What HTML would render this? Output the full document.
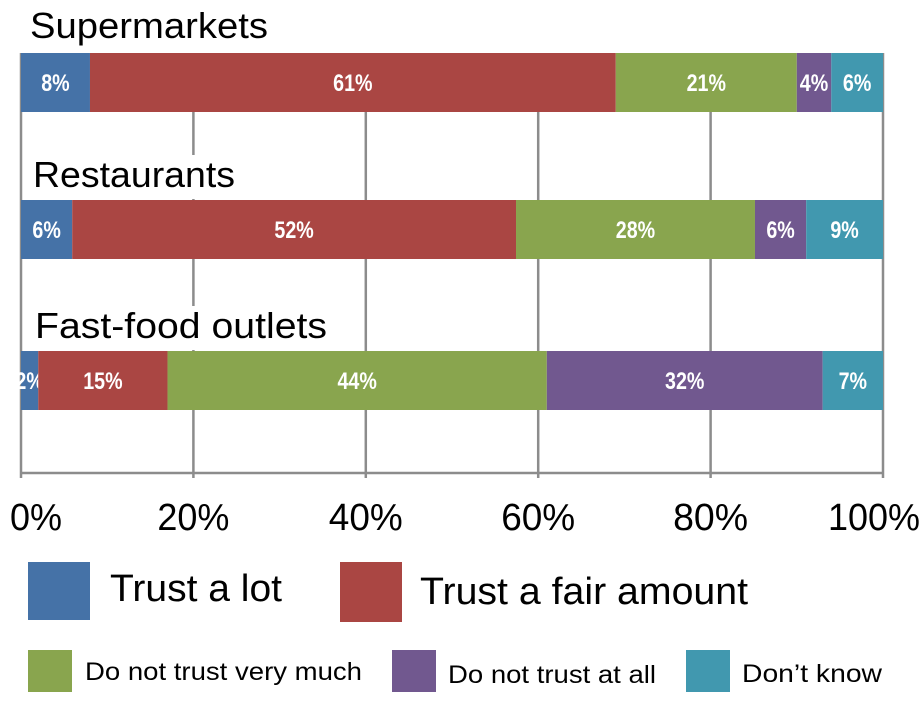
<!DOCTYPE html>
<html><head><meta charset="utf-8"><style>
html,body{margin:0;padding:0;background:#fff;}
svg{display:block;font-family:"Liberation Sans",sans-serif;}
</style></head><body>
<svg id="chart" width="923" height="713" viewBox="0 0 923 713" xmlns="http://www.w3.org/2000/svg">
<g id="grid"></g>
<g id="bars"></g>
<g id="cats"></g>
<g id="ticks"></g>
<g id="legend"></g>
</svg>
<script>
const categories = ["Supermarkets", "Restaurants", "Fast-food outlets"];
const seriesNames = ["Trust a lot", "Trust a fair amount", "Do not trust very much", "Do not trust at all", "Don\u2019t know"];
const trustLot = [8, 6, 2];
const trustFair = [61, 52, 15];
const notVeryMuch = [21, 28, 44];
const notAtAll = [4, 6, 32];
const dontKnow = [6, 9, 7];
const tickValues = [0, 20, 40, 60, 80, 100];
const tickLabels = ["0%", "20%", "40%", "60%", "80%", "100%"];

const colors = ["#4572a7", "#aa4643", "#89a54e", "#71588f", "#4198af"];
const series = [trustLot, trustFair, notVeryMuch, notAtAll, dontKnow];
const NS = "http://www.w3.org/2000/svg";
const x0 = 21, x1 = 883;
const xScale = v => x0 + (x1 - x0) * v / 100;
const barTop = [53, 200, 351], barH = 59;
const catBase = [38, 187, 338], catWidths = [238, 202, 292], catX = [30, 33, 35];

function mk(tag, attrs, parent) {
  const e = document.createElementNS(NS, tag);
  for (const k in attrs) e.setAttribute(k, attrs[k]);
  parent.appendChild(e);
  return e;
}
const grid = document.getElementById('grid');
tickValues.forEach((t, i) => {
  const l = mk('line', {x1: xScale(t), x2: xScale(t), y1: 53, y2: 478, stroke: '#8c8c8c', 'stroke-width': 2.5}, grid);
  
  
});
const ax = mk('line', {x1: x0, x2: x1, y1: 473, y2: 473, stroke: '#8c8c8c', 'stroke-width': 2.5}, grid);



const bars = document.getElementById('bars');
categories.forEach((c, ci) => {
  let total = 0;
  series.forEach(s => total += s[ci]);
  let acc = 0;
  series.forEach((s, si) => {
    const v = s[ci];
    const xa = xScale(acc / total * 100), xb = xScale((acc + v) / total * 100);
    acc += v;
    const r = mk('rect', {x: xa, y: barTop[ci], width: xb - xa, height: barH, fill: colors[si]}, bars);
    
    
    const t = mk('text', {x: (xa + xb) / 2, y: barTop[ci] + 38, 'text-anchor': 'middle', fill: '#fff', 'font-size': 24, 'font-weight': 'bold'}, bars);
    
    
    t.setAttribute('transform', 'translate(' + ((xa + xb) / 2) + ' 0) scale(0.82 1) translate(' + (-(xa + xb) / 2) + ' 0)');
    t.textContent = v + '%';
  });
});

const cats = document.getElementById('cats');
categories.forEach((c, ci) => {
  const bg = mk('rect', {x: 24, y: catBase[ci] - 32, width: catWidths[ci] + 14, height: 44, fill: '#fff'}, cats);
  
  
  const t = mk('text', {x: catX[ci], y: catBase[ci], 'font-size': 36, fill: '#000', textLength: catWidths[ci], lengthAdjust: 'spacingAndGlyphs'}, cats);
  
  
  t.textContent = c;
});

const ticks = document.getElementById('ticks');
const tickW = [52, 72, 74, 74, 75, 92];
tickValues.forEach((v, i) => {
  let cx = xScale(v);
  if (i === 0) cx = 36;
  if (i === tickValues.length - 1) cx = 874;
  const t = mk('text', {x: cx - tickW[i] / 2, y: 530, 'font-size': 38, fill: '#000', textLength: tickW[i], lengthAdjust: 'spacingAndGlyphs'}, ticks);
  
  
  t.textContent = tickLabels[i];
});

const legend = document.getElementById('legend');
const lg = [
  {sx: 28, sy: 562, sw: 62, sh: 58, tx: 110, ty: 601, tw: 172, fs: 38},
  {sx: 340, sy: 562, sw: 62, sh: 60, tx: 420, ty: 604, tw: 328, fs: 38},
  {sx: 28, sy: 650, sw: 44, sh: 42, tx: 85, ty: 680, tw: 277, fs: 25},
  {sx: 392, sy: 650, sw: 44, sh: 42, tx: 448, ty: 683, tw: 208, fs: 25},
  {sx: 686, sy: 650, sw: 44, sh: 42, tx: 742, ty: 682, tw: 140, fs: 25}
];
lg.forEach((g, i) => {
  const r = mk('rect', {x: g.sx, y: g.sy, width: g.sw, height: g.sh, fill: colors[i]}, legend);
  
  
  const t = mk('text', {x: g.tx, y: g.ty, 'font-size': g.fs, fill: '#000', textLength: g.tw, lengthAdjust: 'spacingAndGlyphs'}, legend);
  
  
  t.textContent = seriesNames[i];
});
</script>
</body></html>
